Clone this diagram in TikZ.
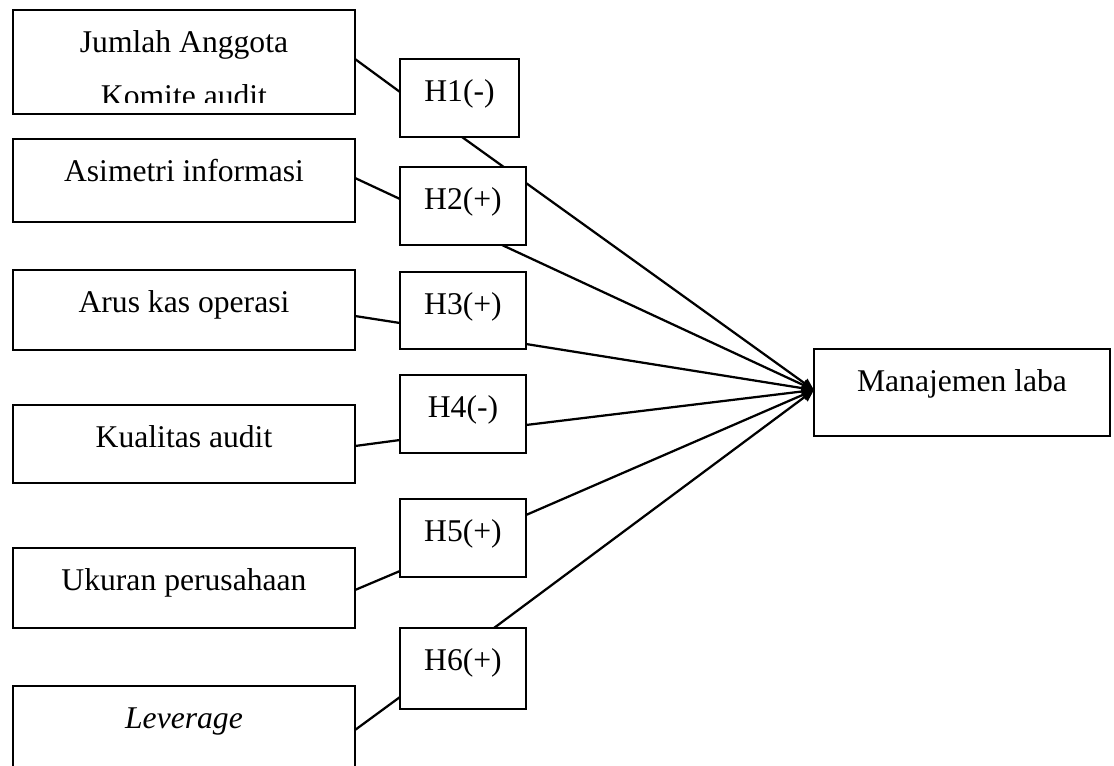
\documentclass[tikz,border=0pt]{standalone}
\usepackage{fontspec}
\setmainfont{Liberation Serif}
\usetikzlibrary{arrows.meta,backgrounds}

\begin{document}
\begin{tikzpicture}[font=\fontsize{22.5}{26}\selectfont,
    varbox/.style={rectangle, draw, line width=1.6pt, anchor=north west,
          inner xsep=0pt, inner ysep=0pt, outer sep=0pt,
          minimum width=8.55cm, text height=1.05cm},
    hypbox/.style={rectangle, draw, fill=white, line width=1.6pt, anchor=north west,
          inner xsep=0pt, inner ysep=0pt, outer sep=0pt,
          minimum width=3.15cm, text height=1.05cm},
    link/.style={line width=1.6pt},
    arrow/.style={link, -{Triangle[length=0.3cm, width=0.26cm]}}]
\useasboundingbox (0,0) rectangle (27.85,-19.125);
\clip (0,0) rectangle (27.85,-19.125);

\begin{scope}
\clip (0,0) rectangle (9.5,-2.55);
\node[varbox, text height=2.4cm, text depth=0.2cm, align=center] (jml) at (0.325,-0.25)
          {Jumlah Anggota\\[12pt]Komite audit};
\end{scope}
\draw[link] ([yshift=0.4cm]jml.south west) -- (jml.south west)
          -- (jml.south east) -- ([yshift=0.4cm]jml.south east);

\node[varbox, text depth=1.025cm] (asi) at (0.325,-3.475) {Asimetri informasi};
\node[varbox, text depth=0.95cm] (arus) at (0.325,-6.75) {Arus kas operasi};
\node[varbox, text depth=0.9cm] (kual) at (0.325,-10.125) {Kualitas audit};
\node[varbox, text depth=0.95cm] (ukur) at (0.325,-13.7) {Ukuran perusahaan};
\node[varbox, text depth=1.3cm] (lev) at (0.325,-17.15) {\textit{Leverage}};

\node[hypbox, minimum width=2.975cm, text depth=0.9cm] (h1) at (10,-1.475) {H1(-)};
\node[hypbox, text depth=0.9cm] (h2) at (10,-4.175) {H2(+)};
\node[hypbox, text depth=0.875cm] (h3) at (10,-6.8) {H3(+)};
\node[hypbox, text depth=0.9cm] (h4) at (10,-9.375) {H4(-)};
\node[hypbox, text depth=0.9cm] (h5) at (10,-12.475) {H5(+)};
\node[hypbox, text depth=0.975cm] (h6) at (10,-15.7) {H6(+)};

\node[hypbox, minimum width=7.4cm, text depth=1.125cm] (laba) at (20.35,-8.725)
          {Manajemen laba};
\coordinate (tip) at ([yshift=0.0625cm]laba.west);

\begin{scope}[on background layer]
\draw[link] ([yshift=0.075cm]jml.east) -- ([yshift=0.15cm]h1.west);
\draw[link] ([yshift=0.0625cm]asi.east) -- ([yshift=0.175cm]h2.west);
\draw[link] ([yshift=-0.15cm]arus.east) -- ([yshift=-0.3125cm]h3.west);
\draw[link] ([yshift=-0.05cm]kual.east) -- ([yshift=-0.65cm]h4.west);
\draw[link] ([yshift=-0.05cm]ukur.east) -- ([yshift=-0.825cm]h5.west);
\draw[link] ([yshift=0.075cm]lev.east) -- ([yshift=-0.7125cm]h6.west);

\draw[arrow] ([xshift=0.0625cm]h1.south) -- (tip);
\draw[arrow] ([xshift=0.975cm]h2.south) -- (tip);
\draw[arrow] ([yshift=-0.8375cm]h3.east) -- (tip);
\draw[arrow] ([yshift=-0.275cm]h4.east) -- (tip);
\draw[arrow] ([yshift=0.575cm]h5.east) -- (tip);
\draw[arrow] ([xshift=0.775cm]h6.north) -- (tip);
\end{scope}
\end{tikzpicture}
\end{document}
